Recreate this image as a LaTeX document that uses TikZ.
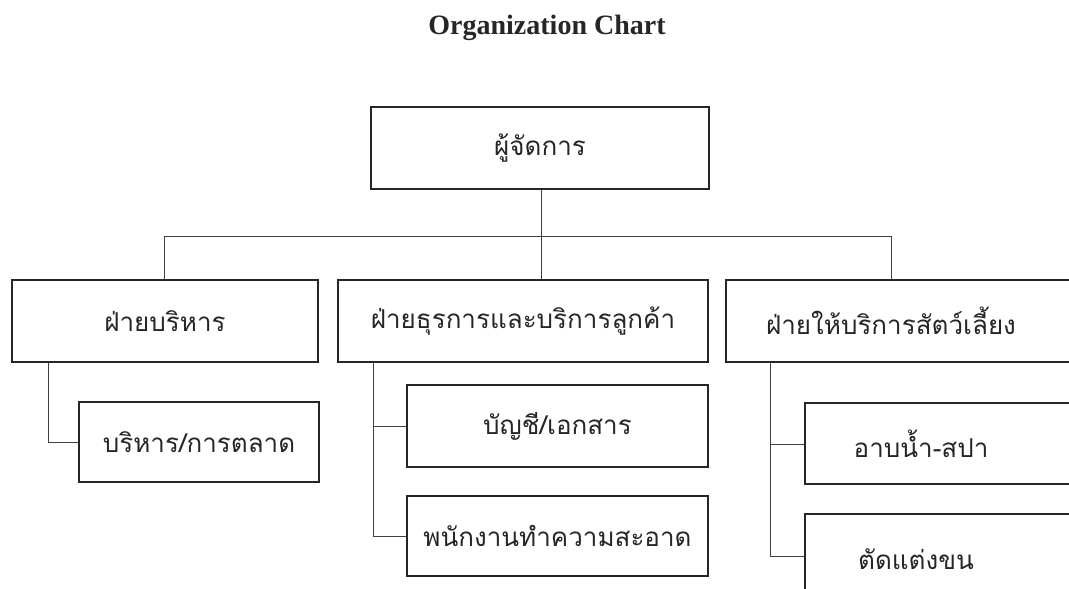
\documentclass[tikz,border=0pt]{standalone}
\usepackage{fontspec}
\setmainfont{Liberation Serif}
\newfontfamily\thaifont[Script=Thai]{Loma}
\begin{document}
\begin{tikzpicture}[x=1pt,y=-1pt,
  box/.style={draw=black!85,line width=2.3pt,rectangle,inner sep=0pt,
    font=\thaifont\fontsize{26}{30}\selectfont,text=black!85},
  lbl/.style={inner sep=0pt,font=\thaifont\fontsize{26}{30}\selectfont,text=black!85},
  conn/.style={draw=black!75,line width=0.9pt}]
\useasboundingbox (0,0) rectangle (1069,589);
\node[font=\bfseries\fontsize{28}{32}\selectfont,text=black!85] (title) at (547,28) {Organization Chart};
% level 1
\node[box,minimum width=338pt,minimum height=82pt] (top) at (540,148) {ผู้จัดการ};
% level 2
\node[box,minimum width=306pt,minimum height=82pt] (A) at (165,321) {ฝ่ายบริหาร};
\node[box,minimum width=370pt,minimum height=82pt] (B) at (523,321) {ฝ่ายธุรการและบริการลูกค้า};
\node[box,minimum width=370pt,minimum height=82pt] (C) at (911,321) {};
\node[lbl] (Ct) at (891,321) {ฝ่ายให้บริการสัตว์เลี้ยง};
% level 3
\node[box,minimum width=240pt,minimum height=80pt] (A1) at (199,442) {บริหาร/การตลาด};
\node[box,minimum width=301pt,minimum height=82pt] (B1) at (557.5,426) {บัญชี/เอกสาร};
\node[box,minimum width=301pt,minimum height=80pt] (B2) at (557.5,536) {พนักงานทำความสะอาด};
\node[box,minimum width=290pt,minimum height=81pt] (C1) at (950,443.5) {};
\node[lbl] (C1t) at (921,443.5) {อาบน้ำ-สปา};
\node[box,minimum width=290pt,minimum height=82pt] (C2) at (950,555) {};
\node[lbl] (C2t) at (916,559) {ตัดแต่งขน};
% connectors
\coordinate (bus) at (541,236);
\draw[conn] (top.south -| bus) -- (bus);
\draw[conn] (A.north -| 164,0) |- (bus) -| (B.north -| bus);
\draw[conn] (bus) -| (Ct |- C.north);
\draw[conn] (A.south -| 48,0) |- (A1.west);
\draw[conn] (B.south -| 373,0) |- (B2.west);
\draw[conn] (B1.west) -- (B1.west -| 373,0);
\draw[conn] (C.south -| 770,0) |- (C2.west |- 0,556);
\draw[conn] (C1.west |- 0,444) -- (770,444);
\end{tikzpicture}
\end{document}
